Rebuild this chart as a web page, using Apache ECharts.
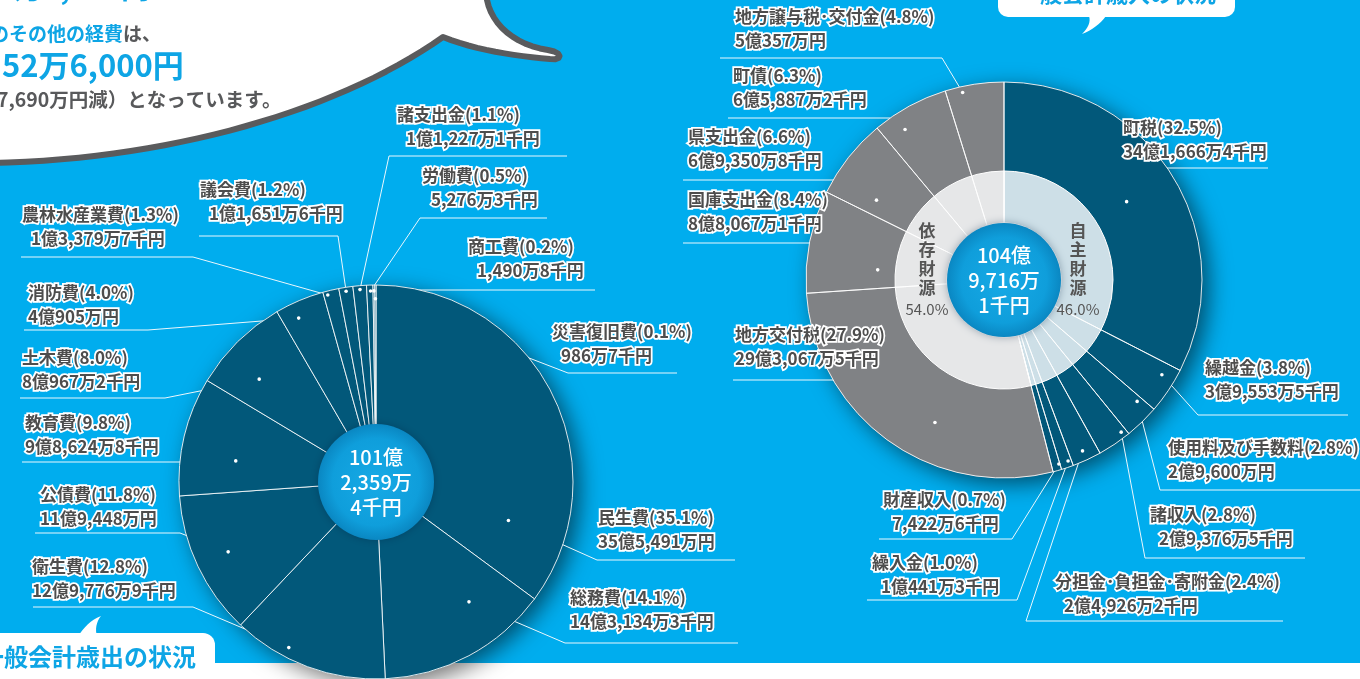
<!doctype html>
<html>
<head>
<meta charset="utf-8">
<title>一般会計の状況</title>
<style>
html, body { margin: 0; padding: 0; background: #00adee; }
#main { width: 1360px; height: 679px; }
</style>
</head>
<body>
<div id="main"></div>
<script src="https://cdn.jsdelivr.net/npm/echarts@6.0.0/dist/echarts.min.js"></script>
<script>
// 歳出 (単位:千円)
var expNames = ['民生費', '総務費', '衛生費', '公債費', '教育費', '土木費', '消防費', '農林水産業費', '議会費', '諸支出金', '労働費', '商工費', '災害復旧費'];
var expValues = [3554910, 1431343, 1297769, 1194480, 986248, 809672, 409050, 133797, 116516, 112271, 52763, 14908, 9867];
var expPct = ['35.1', '14.1', '12.8', '11.8', '9.8', '8.0', '4.0', '1.3', '1.2', '1.1', '0.5', '0.2', '0.1'];

// 歳入 (単位:千円)
var revNames = ['町税', '繰越金', '使用料及び手数料', '諸収入', '分担金･負担金･寄附金', '繰入金', '財産収入', '地方交付税', '国庫支出金', '県支出金', '町債', '地方譲与税･交付金'];
var revValues = [3416664, 395535, 296000, 293765, 249262, 104413, 74226, 2930675, 880671, 693508, 658872, 503570];
var revPct = ['32.5', '3.8', '2.8', '2.8', '2.4', '1.0', '0.7', '27.9', '8.4', '6.6', '6.3', '4.8'];
var revKind = [0, 0, 0, 0, 0, 0, 0, 1, 1, 1, 1, 1];
var kindNames = ['自主財源', '依存財源'];
var kindPct = ['46.0', '54.0'];

// ---- layout (not data) ----
var PIE_L = { cx: 376, cy: 482, r: 197, hole: 58 };
var PIE_R = { cx: 1004, cy: 280, r: 198, mid: 109, hole: 57 };
var DARK = '#02587a', GRAY = '#808285', BLUE = '#0ea5e5';

// label box: [textX, textY, underlineY, xNear, xFar, t in slice, radius frac, indent]
var expLayout = [
  [598, 506, 560, 597, 735, 0.84, 0.70, 0],
  [570, 586, 643, 565, 738, 0.31, 0.77, 0],
  [32, 555, 607, 193, 33, 0.66, 0.95, 0],
  [40, 483, 533, 180, 35, 0.5, 0.83, 0],
  [25, 411, 462, 200, 22, 0.36, 0.72, 0],
  [22, 346, 398, 165, 20, 0.36, 0.79, 0],
  [28, 281, 330, 148, 24, 0.34, 0.92, 0],
  [22, 203, 257, 193, 21, 0.25, 0.98, 1],
  [200, 178, 236, 338, 199, 0.48, 0.98, 1],
  [397, 103, 156, 389, 567, 0.5, 0.98, 1],
  [422, 164, 218, 420, 547, 0.6, 0.97, 1],
  [468, 235, 290, 380, 595, 0.5, 0.97, 1],
  [552, 320, 373, 568, 677, 0.5, 0.93, 1]
];
var revLayout = [
  [1123, 116, 168, 1138, 1268, 0.49, 0.735, 0],
  [1205, 356, 415, 1198, 1348, 0.28, 0.93, 0],
  [1168, 436, 490, 1160, 1360, 0.16, 0.91, 0],
  [1150, 503, 558, 1145, 1305, 0.15, 0.97, 1],
  [1055, 570, 621, 1026, 1283, 0.51, 0.95, 1],
  [872, 551, 600, 1017, 867, 0.28, 0.97, 1],
  [883, 488, 539, 1012, 879, 0.12, 0.97, 1],
  [735, 323, 380, 900, 733, 0.4, 0.80, 0],
  [688, 188, 243, 858, 683, 0.28, 0.64, 0],
  [688, 125, 180, 835, 683, 0.24, 0.76, 0],
  [733, 64, 118, 890, 728, 0.29, 0.91, 0],
  [735, 5, 58, 942, 720, 0.28, 0.97, 0]
];
var kindLayout = [[1078, 221], [927, 221]];

function sum(a) { var s = 0; for (var i = 0; i < a.length; i++) s += a[i]; return s; }

// 千円 -> 「35億5,491万円」
function yen(v) {
  var oku = Math.floor(v / 100000), man = Math.floor(v % 100000 / 10), sen = v % 10;
  var s = '';
  if (oku) s += oku + '億';
  if (man) s += man.toLocaleString('en-US') + '万';
  return s + (sen ? sen + '千円' : '円');
}
function centerText(v) {
  var oku = Math.floor(v / 100000), man = Math.floor(v % 100000 / 10), sen = v % 10;
  return oku + '億\n' + man.toLocaleString('en-US') + '万\n' + sen + '千円';
}
// point inside a slice, from the values
function anchorPt(values, idx, t, rf, P) {
  var total = sum(values), before = 0;
  for (var i = 0; i < idx; i++) before += values[i];
  var ang = (before + t * values[idx]) / total * 2 * Math.PI;
  return [P.cx + P.r * rf * Math.sin(ang), P.cy - P.r * rf * Math.cos(ang)];
}

var labelRich = {
  n: { fontSize: 17, fontWeight: 'bold', color: '#4d4d4d', lineHeight: 24, textBorderColor: '#fff', textBorderWidth: 3.5 },
  v: { fontSize: 17, fontWeight: 'bold', color: '#4d4d4d', lineHeight: 24, textBorderColor: '#fff', textBorderWidth: 3.5 },
  vi: { fontSize: 17, fontWeight: 'bold', color: '#4d4d4d', lineHeight: 24, textBorderColor: '#fff', textBorderWidth: 3.5, padding: [0, 0, 0, 9] }
};
function makeFormatter(names, pct, values, layout) {
  return function (p) {
    var i = p.dataIndex;
    return '{n|' + names[i] + '(' + pct[i] + '%)}\n{' + (layout[i][7] ? 'vi' : 'v') + '|' + yen(values[i]) + '}';
  };
}
function makeLayout(values, layout, P) {
  return function (p) {
    var L = layout[p.dataIndex];
    var d = anchorPt(values, p.dataIndex, L[5], L[6], P);
    return {
      x: L[0], y: L[1], align: 'left', verticalAlign: 'top',
      labelLinePoints: [d, [L[3], L[2]], [L[4], L[2]]]
    };
  };
}
function centerColor() {
  return { type: 'radial', x: 0.5, y: 0.5, r: 0.5, colorStops: [
    { offset: 0, color: '#17aae6' }, { offset: 0.75, color: '#0f9edb' }, { offset: 1, color: '#0a87c2' }] };
}
function cubic(a, b, c, d, n) {
  var pts = [];
  for (var i = 1; i <= n; i++) {
    var t = i / n, u = 1 - t;
    pts.push([u * u * u * a[0] + 3 * u * u * t * b[0] + 3 * u * t * t * c[0] + t * t * t * d[0],
              u * u * u * a[1] + 3 * u * u * t * b[1] + 3 * u * t * t * c[1] + t * t * t * d[1]]);
  }
  return pts;
}

// speech bubble outline (top-left)
var bubble = [[-10, -10], [487, -10], [487, 0]]
  .concat(cubic([487, 0], [492, 25], [515, 45], [548, 50], 12))
  .concat(cubic([548, 50], [563, 52], [563, 61], [550, 59], 6))
  .concat(cubic([550, 59], [515, 56], [475, 50], [443, 37], 12))
  .concat(cubic([443, 37], [340, 110], [170, 160], [-10, 163], 30));
var tailL = [[78, 636]].concat(cubic([78, 636], [84, 628], [90, 620], [101, 616], 8)).concat(cubic([101, 616], [96, 622], [95, 630], [97, 636], 8));
var tailR = [[1106, 16]].concat(cubic([1106, 16], [1100, 24], [1092, 30], [1082, 34], 8)).concat(cubic([1082, 34], [1088, 28], [1091, 22], [1089, 16], 8));

var FONT = '"Noto Sans CJK JP", "Noto Sans", sans-serif';
var graphics = [
  { type: 'rect', z: 0, silent: true, shape: { x: 0, y: 663, width: 1360, height: 20 }, style: { fill: '#fff' } },
  { type: 'polygon', z: 10, silent: true, shape: { points: bubble }, style: { fill: '#fff', stroke: '#5a5b5d', lineWidth: 6, lineJoin: 'round' } },
  { type: 'text', z: 11, silent: true, style: { text: '9万5,000円', x: 150, y: -12, fill: BLUE, fontSize: 29, fontWeight: 'bold', fontFamily: FONT, align: 'right', verticalAlign: 'middle' } },
  { type: 'text', z: 11, silent: true, style: { text: 'のその他の経費', x: 123, y: 34, fill: BLUE, fontSize: 19, fontWeight: 'bold', fontFamily: FONT, align: 'right', verticalAlign: 'middle' } },
  { type: 'text', z: 11, silent: true, style: { text: 'は、', x: 123, y: 34, fill: '#58595b', fontSize: 19, fontWeight: 'bold', fontFamily: FONT, align: 'left', verticalAlign: 'middle' } },
  { type: 'text', z: 11, silent: true, style: { text: '52万6,000円', x: 2, y: 65, fill: BLUE, fontSize: 31, fontWeight: 'bold', fontFamily: FONT, align: 'left', verticalAlign: 'middle' } },
  { type: 'text', z: 11, silent: true, style: { text: '7,690万円減）となっています。', x: -3, y: 100, fill: '#58595b', fontSize: 19.5, fontWeight: 'bold', fontFamily: FONT, align: 'left', verticalAlign: 'middle' } },
  { type: 'rect', z: 10, silent: true, shape: { x: -20, y: 633, width: 235, height: 60, r: [0, 12, 0, 0] }, style: { fill: '#fff' } },
  { type: 'polygon', z: 10, silent: true, shape: { points: tailL }, style: { fill: '#fff' } },
  { type: 'text', z: 11, silent: true, style: { text: '一般会計歳出の状況', x: -20, y: 657, fill: BLUE, fontSize: 24, fontWeight: 'bold', fontFamily: FONT, align: 'left', verticalAlign: 'middle' } },
  { type: 'rect', z: 10, silent: true, shape: { x: 998, y: -20, width: 237, height: 37, r: [0, 0, 10, 10] }, style: { fill: '#fff' } },
  { type: 'polygon', z: 10, silent: true, shape: { points: tailR }, style: { fill: '#fff' } },
  { type: 'text', z: 11, silent: true, style: { text: '一般会計歳入の状況', x: 1018, y: -6, fill: BLUE, fontSize: 22, fontWeight: 'bold', fontFamily: FONT, align: 'left', verticalAlign: 'middle' } }
];
// leader dots
expLayout.forEach(function (L, i) {
  var d = anchorPt(expValues, i, L[5], L[6], PIE_L);
  graphics.push({ type: 'circle', z: 6, silent: true, shape: { cx: d[0], cy: d[1], r: 1.8 }, style: { fill: '#fff' } });
});
revLayout.forEach(function (L, i) {
  var d = anchorPt(revValues, i, L[5], L[6], PIE_R);
  graphics.push({ type: 'circle', z: 6, silent: true, shape: { cx: d[0], cy: d[1], r: 1.8 }, style: { fill: '#fff' } });
});

var kindValues = [0, 0];
revValues.forEach(function (v, i) { kindValues[revKind[i]] += v; });

var lineStyle = { color: '#eaf7fd', width: 1 };
var myChart = echarts.init(document.getElementById('main'));
var option = {
  backgroundColor: '#00adee',
  animation: false,
  textStyle: { fontFamily: FONT },
  graphic: { elements: graphics },
  series: [
    // 歳出
    { type: 'pie', z: 1, silent: true, center: [PIE_L.cx, PIE_L.cy], radius: [0, PIE_L.r],
      data: [{ value: 1 }], label: { show: false }, labelLine: { show: false }, emphasis: { disabled: true },
      itemStyle: { color: DARK, shadowBlur: 22, shadowOffsetX: 7, shadowOffsetY: 6, shadowColor: 'rgba(0,0,0,0.55)' } },
    { type: 'pie', z: 2, silent: true, center: [PIE_L.cx, PIE_L.cy], radius: [0, PIE_L.r],
      startAngle: 90, clockwise: true, avoidLabelOverlap: false, emphasis: { disabled: true },
      data: expNames.map(function (n, i) { return { name: n, value: expValues[i] }; }),
      itemStyle: { color: DARK, borderColor: 'rgba(255,255,255,0.85)', borderWidth: 1 },
      label: { show: true, position: 'outside', formatter: makeFormatter(expNames, expPct, expValues, expLayout), rich: labelRich },
      labelLine: { show: true, showAbove: true, smooth: false, lineStyle: lineStyle },
      labelLayout: makeLayout(expValues, expLayout, PIE_L) },
    { type: 'pie', z: 5, silent: true, center: [PIE_L.cx, PIE_L.cy], radius: [0, PIE_L.hole],
      data: [{ value: sum(expValues), name: '歳出合計' }], emphasis: { disabled: true },
      itemStyle: { color: centerColor(), shadowBlur: 8, shadowColor: 'rgba(0,30,60,0.35)' },
      label: { show: true, position: 'center', formatter: centerText(sum(expValues)), color: '#fff', fontSize: 20, lineHeight: 25, fontWeight: 500 },
      labelLine: { show: false } },

    // 歳入
    { type: 'pie', z: 1, silent: true, center: [PIE_R.cx, PIE_R.cy], radius: [0, PIE_R.r],
      data: [{ value: 1 }], label: { show: false }, labelLine: { show: false }, emphasis: { disabled: true },
      itemStyle: { color: GRAY, shadowBlur: 22, shadowOffsetX: 7, shadowOffsetY: 6, shadowColor: 'rgba(0,0,0,0.55)' } },
    { type: 'pie', z: 2, silent: true, center: [PIE_R.cx, PIE_R.cy], radius: [PIE_R.mid, PIE_R.r],
      startAngle: 90, clockwise: true, avoidLabelOverlap: false, emphasis: { disabled: true },
      data: revNames.map(function (n, i) { return { name: n, value: revValues[i], itemStyle: { color: revKind[i] ? GRAY : DARK } }; }),
      itemStyle: { borderWidth: 0 },
      label: { show: true, position: 'outside', formatter: makeFormatter(revNames, revPct, revValues, revLayout), rich: labelRich },
      labelLine: { show: true, showAbove: true, smooth: false, lineStyle: lineStyle },
      labelLayout: makeLayout(revValues, revLayout, PIE_R) },
    { type: 'pie', z: 3, silent: true, center: [PIE_R.cx, PIE_R.cy], radius: [PIE_R.hole, PIE_R.mid],
      startAngle: 90, clockwise: true, avoidLabelOverlap: false, emphasis: { disabled: true },
      data: kindNames.map(function (n, i) { return { name: n, value: kindValues[i], itemStyle: { color: i ? '#e6e7e8' : '#cddfe7' } }; }),
      itemStyle: { borderColor: '#fff', borderWidth: 1 },
      label: { show: true, position: 'inside',
        formatter: function (p) {
          return kindNames[p.dataIndex].split('').map(function (c) { return '{t|' + c + '}'; }).join('\n') + '\n{p|' + kindPct[p.dataIndex] + '%}';
        },
        rich: {
          t: { fontSize: 17, fontWeight: 'bold', color: '#555', lineHeight: 19 },
          p: { fontSize: 15, color: '#555', lineHeight: 24 }
        } },
      labelLine: { show: false },
      labelLayout: function (p) {
        var K = kindLayout[p.dataIndex];
        return { x: K[0], y: K[1], align: 'center', verticalAlign: 'top' };
      } },
    // slice boundaries drawn through the inner ring
    { type: 'pie', z: 3, silent: true, center: [PIE_R.cx, PIE_R.cy], radius: [PIE_R.hole, PIE_R.r],
      startAngle: 90, clockwise: true, emphasis: { disabled: true },
      data: revNames.map(function (n, i) { return { name: n, value: revValues[i] }; }),
      itemStyle: { color: 'rgba(0,0,0,0)', borderColor: 'rgba(255,255,255,0.85)', borderWidth: 1 },
      label: { show: false }, labelLine: { show: false } },
    { type: 'pie', z: 5, silent: true, center: [PIE_R.cx, PIE_R.cy], radius: [0, PIE_R.hole],
      data: [{ value: sum(revValues), name: '歳入合計' }], emphasis: { disabled: true },
      itemStyle: { color: centerColor(), shadowBlur: 8, shadowColor: 'rgba(0,30,60,0.35)' },
      label: { show: true, position: 'center', formatter: centerText(sum(revValues)), color: '#fff', fontSize: 20, lineHeight: 25, fontWeight: 500 },
      labelLine: { show: false } }
  ]
};
myChart.setOption(option);
</script>
</body>
</html>
